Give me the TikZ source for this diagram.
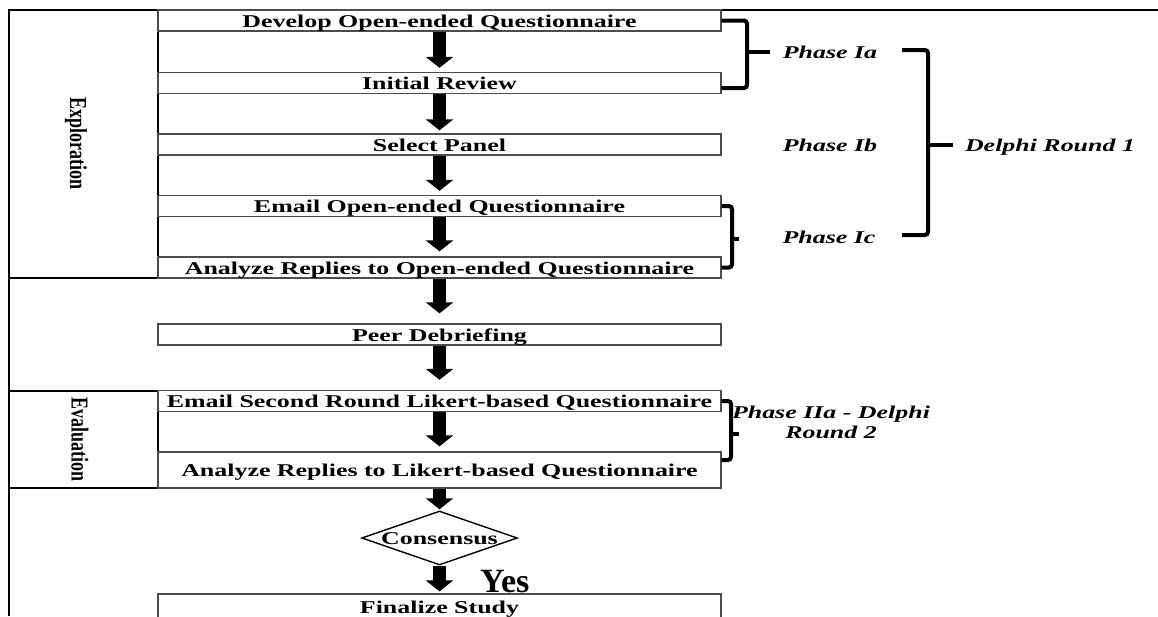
\documentclass[tikz,border=0pt]{standalone}
\usepackage{fontspec}
\setmainfont{Liberation Serif}
\newfontfamily\widefont[FakeStretch=1.44]{Liberation Serif}
\usetikzlibrary{arrows.meta,shapes.geometric,calc}
\begin{document}
\begin{tikzpicture}[x=1pt,y=-1pt,
  frame/.style={line width=1.6pt, draw=black},
  stepbox/.style={draw=black!70, line width=1.3pt, rectangle, inner sep=0pt,
    minimum width=563pt, minimum height=21pt, text height=13pt, text depth=0pt,
    font=\widefont\bfseries\fontsize{18}{20}\selectfont},
  lane/.style={rotate=-90, inner sep=0pt,
    font=\bfseries\fontsize{18}{20}\selectfont},
  phase/.style={inner sep=0pt, text height=13pt, text depth=0pt,
    font=\widefont\bfseries\itshape\fontsize{18}{20}\selectfont},
  blockarrow/.style={line width=13pt, draw=black, -{Triangle[width=27pt,length=11pt]}},
  brace/.style={line width=4pt, draw=black, rounded corners=3pt},
  decision/.style={diamond, draw=black, line width=1.4pt, aspect=3, inner sep=0pt,
    minimum width=154pt, minimum height=54pt, text height=13pt, text depth=0pt,
    font=\widefont\bfseries\fontsize{18}{20}\selectfont}
]
\useasboundingbox (0,0) rectangle (1158,616);
\fill[white] (0,0) rectangle (1158,616);

% frame and lanes
\draw[frame] (9,616) -- (9,10) -- (1158,10);
\draw[frame] (158,10) -- (158,278);
\draw[frame] (9,278) -- (158,278);
\draw[frame] (9,391) -- (158,391) -- (158,488);
\draw[frame] (9,488) -- (158,488);
\node[lane] (explo) at (76,143.5) {\scalebox{1}[1.35]{Exploration}};
\node[lane] (evalu) at (80,439.5) {\scalebox{1}[1.35]{Evaluation}};

% step boxes
\node[stepbox] (b1) at (439.5,20.5) {Develop Open-ended Questionnaire};
\node[stepbox] (b2) at (439.5,83) {Initial Review};
\node[stepbox] (b3) at (439.5,144.5) {Select Panel};
\node[stepbox] (b4) at (439.5,206) {Email Open-ended Questionnaire};
\node[stepbox] (b5) at (439.5,267.5) {Analyze Replies to Open-ended Questionnaire};
\node[stepbox] (b6) at (439.5,334.5) {Peer Debriefing};
\node[stepbox] (b7) at (439.5,401) {Email Second Round Likert-based Questionnaire};
\node[stepbox, minimum height=36pt] (b8) at (439.5,470) {Analyze Replies to Likert-based Questionnaire};
\node[decision] (c) at (439.5,538) {Consensus};
\node[stepbox, minimum height=26pt] (b9) at (439.5,607) {Finalize Study};
\node[anchor=base west, inner sep=0pt, font=\bfseries\fontsize{34}{36}\selectfont] (yes) at (480,592) {Yes};

% arrows
\draw[blockarrow, shorten >=4pt] (b1.south) -- (b2.north);
\draw[blockarrow, shorten >=3pt] (b2.south) -- (b3.north);
\draw[blockarrow, shorten >=4pt] (b3.south) -- (b4.north);
\draw[blockarrow, shorten >=5pt] (b4.south) -- (b5.north);
\draw[blockarrow, shorten >=10pt] (b5.south) -- (b6.north);
\draw[blockarrow, shorten >=10pt] (b6.south) -- (b7.north);
\draw[blockarrow, shorten >=5pt] (b7.south) -- (b8.north);
\draw[blockarrow, shorten >=1pt] (b8.south) -- (c.north);
\draw[blockarrow, shorten >=2pt] (c.south) -- (b9.north);

% phase labels
\node[phase] (ph1a) at (830,52) {Phase Ia};
\node[phase] (ph1b) at (830,145) {Phase Ib};
\node[phase] (ph1c) at (829,237) {Phase Ic};
\node[phase] (dr1) at (1050,145) {Delphi Round 1};
\node[phase, align=center] (ph2a) at (831,432) {Phase IIa - Delphi\\Round 2};

% brackets
\draw[brace] (b1.east) -| (747,88) -- ($(b2.east)+(0,5)$);
\draw[brace, rounded corners=0pt, shorten >=13pt] (747,52) -- (ph1a.west);
\draw[brace] (b4.east) -| (732,267.5) -- (b5.east);
\draw[brace, rounded corners=0pt, shorten >=43pt] (732,239) -- (ph1c.west |- 0,239);
\draw[brace] (902,50) -| (928,235) -- (902,235);
\draw[brace, rounded corners=0pt, shorten >=12pt] (928,145) -- (dr1.west);
\draw[brace] (b7.east) -| (731,460) -- ($(b8.east)+(0,-10)$);
\draw[brace, rounded corners=0pt] (731,434) -- (739,434);
\end{tikzpicture}
\end{document}
